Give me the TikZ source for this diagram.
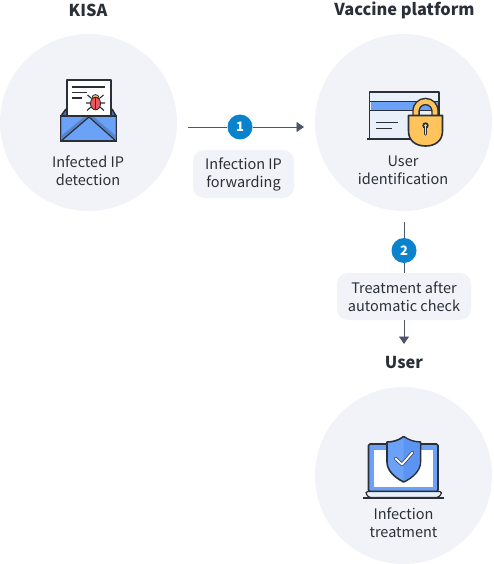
\documentclass[tikz,border=0pt]{standalone}
\usepackage{fontspec}
\setmainfont{Noto Sans CJK KR}
\usetikzlibrary{arrows.meta, positioning, calc}
\definecolor{fundo}{HTML}{F2F3F8}
\definecolor{tinta}{HTML}{2B3038}
\definecolor{seta}{HTML}{4C5568}
\definecolor{selo}{HTML}{0A82CC}
\definecolor{azul}{HTML}{6BA2F8}
\definecolor{azulescuro}{HTML}{5C94F2}
\definecolor{azulclaro}{HTML}{E9F0FA}
\definecolor{ouro}{HTML}{FFC55C}
\definecolor{vermelho}{HTML}{F0565A}

\begin{document}
\begin{tikzpicture}[
    x=1pt,
    y=-1pt,
    every node/.style={text=tinta},
    circulo/.style={
        circle,
        fill=fundo,
        minimum size=177pt,
        inner sep=0pt
    },
    titulo/.style={
        font=\fontsize{16.4}{20}\selectfont\bfseries
    },
    rotulo/.style={
        align=center,
        inner sep=0pt,
        font=\fontsize{14.5}{18}\selectfont
    },
    caixa/.style={
        fill=fundo,
        rounded corners=11pt,
        align=center,
        inner sep=0pt,
        font=\fontsize{14.5}{18}\selectfont
    },
    selonum/.style={
        circle,
        fill=selo,
        minimum size=25pt,
        inner sep=0pt,
        font=\fontsize{13}{15}\selectfont\bfseries,
        text=white
    },
    ligacao/.style={
        draw=seta,
        line width=0.9pt
    },
    ponta/.style={
        -{Triangle[length=7.5pt,width=10pt]}
    },
    contorno/.style={
        draw=tinta,
        line width=1.6pt,
        line join=round
    },
    traco/.style={
        draw=tinta,
        line width=1.1pt
    }
]

\useasboundingbox (0,0) rectangle (493,564);

% ============================================================
% CÍRCULOS
% ============================================================

\node[circulo] (kisa) at (88.5,122.5) {};
\node[circulo] (vaccine) at (403.5,122.5) {};
\node[circulo] (user) at (403.5,475.5) {};

% ============================================================
% TÍTULOS
% ============================================================

\node[titulo] (kisaTitle) at (88,10) {KISA};
\node[titulo] (vaccineTitle) at (404.5,10) {Vaccine platform};
\node[titulo] (userTitle) at (404,363) {User};

% ============================================================
% RÓTULOS
% ============================================================

\node[rotulo] (kisaText) at (88,170.5) {Infected IP\\detection};
\node[rotulo] (vaccineText) at (403,170.5) {User\\identification};
\node[rotulo] (userText) at (403.5,522.5) {Infection\\treatment};

% ============================================================
% PASSO 1
% ============================================================

\coordinate (startA) at (188,127);
\coordinate (endA) at (304,127);
\node[selonum] (badgeA) at (240,127) {1};
\node[
    caixa,
    minimum width=101pt,
    minimum height=48pt
] (boxA) at (243.5,174)
{Infection IP\\forwarding};

\draw[ligacao] (startA) -- (badgeA);
\draw[ligacao, ponta] (badgeA) -- (endA);

% ============================================================
% PASSO 2
% ============================================================

\coordinate (startB) at (404,222);
\coordinate (endB) at (404,344);
\node[selonum] (badgeB) at (404,250.5) {2};
\node[
    caixa,
    minimum width=134pt,
    minimum height=47pt
] (boxB) at (404,296.5)
{Treatment after\\automatic check};

\draw[ligacao] (startB) -- (badgeB);
\draw[ligacao] (badgeB) -- (boxB);
\draw[ligacao, ponta] (boxB) -- (endB);

% ============================================================
% ENVELOPE
% ============================================================

\fill[azul!70!black] (61,116) -- (66,109) -- (112,109) -- (116,116) -- cycle;
\draw[contorno] (61,116) -- (66,109);
\draw[contorno] (116,116) -- (112,109);

\filldraw[contorno, fill=white] (67,80) rectangle (111,116);
\draw[traco] (72,87) -- (105,87);
\draw[traco] (72,92.5) -- (87,92.5);
\draw[traco] (72,98) -- (82,98);

% Inseto
\draw[traco]
(91,98) -- (87.5,95)
(100,98) -- (103.5,95)
(91,103) -- (86,103)
(100,103) -- (105,103)
(91,107) -- (87,110.5)
(100,107) -- (104,110.5);
\filldraw[fill=ouro, draw=tinta, line width=0.8pt] (91.8,98.5) arc (180:360:3.7 and 4) -- cycle;
\filldraw[fill=vermelho, draw=tinta, line width=0.9pt] (95.5,103.5) ellipse (5 and 6.3);
\draw[tinta, line width=0.7pt] (95.5,97.5) -- (95.5,109.5);

\filldraw[contorno, fill=azul] (60.5,116) rectangle (116.5,141);
\fill[azul!60!black, opacity=0.45] (60.5,116) -- (89,117) -- (60.5,141) -- cycle;
\fill[azul] (62,116.8) -- (84,116.8) -- (62,135) -- cycle;
\fill[azul!60!black, opacity=0.45] (116.5,116) -- (89,117) -- (116.5,141) -- cycle;
\fill[azul] (115,116.8) -- (94,116.8) -- (115,135) -- cycle;
\draw[contorno, line width=1.2pt] (61,141) -- (89,117) -- (116,141);
\draw[contorno] (60.5,116) rectangle (116.5,141);

% ============================================================
% CARTÃO E CADEADO
% ============================================================

\filldraw[contorno, fill=azulclaro] (369.5,92) rectangle (439,139);
\fill[azul] (370.5,101) rectangle (438,110);
\draw[tinta, line width=0.7pt] (370,101) -- (439,101) (370,110) -- (439,110);
\draw[contorno] (367,139) -- (412,139);
\draw[traco] (376,122.5) -- (398,122.5);
\draw[traco] (376,128.5) -- (392,128.5);

% Cadeado
\draw[tinta, line width=7.5pt] (416,116) -- (416,111) arc (180:360:9.5) -- (435,116);
\draw[ouro, line width=4.6pt] (416,116) -- (416,111) arc (180:360:9.5) -- (435,116);
\filldraw[contorno, fill=ouro]
(408.5,115.5) -- (442.5,115.5) -- (442.5,131)
.. controls (442.5,141) and (435,146) .. (425.5,146)
.. controls (416,146) and (408.5,141) .. (408.5,131) -- cycle;
\fill[tinta] (425.5,125.5) circle (3.2);
\draw[tinta, line width=3.4pt, line cap=round] (425.5,126) -- (425.5,134);
\fill[ouro!55!white] (425.5,125.5) circle (1.4);
\draw[ouro!55!white, line width=1.2pt, line cap=round] (425.5,126) -- (425.5,134);

% ============================================================
% LAPTOP E ESCUDO
% ============================================================

\filldraw[contorno, fill=azul, rounded corners=1.5pt] (368.5,444) rectangle (438,491.5);
\fill[white] (374,449.5) rectangle (433,486.5);
\filldraw[contorno, fill=azulclaro, line width=1.2pt, rounded corners=1.5pt]
(366,491.5) -- (441.5,491.5) -- (441.5,494) -- (438,497.5) -- (369,497.5) -- (366,494) -- cycle;
\draw[contorno] (363,498) -- (444,498);

\filldraw[contorno, fill=azul]
(403.7,436.5) .. controls (409,440.5) and (415,442) .. (420.5,442)
-- (420.5,462)
.. controls (420.5,471) and (412,478) .. (403.7,482)
.. controls (395.5,478) and (387,471) .. (387,462)
-- (387,442)
.. controls (392.5,442) and (398.5,440.5) .. (403.7,436.5) -- cycle;
\fill[azulescuro]
(403.7,437.5) .. controls (409,441.2) and (415,442.8) .. (419.7,442.8)
-- (419.7,462)
.. controls (419.7,470.5) and (411.5,477.2) .. (403.7,481) -- cycle;
\draw[tinta, line width=3.2pt, line cap=round, line join=round]
(395.5,458.5) -- (402,464.5) -- (412.5,452.5);
\draw[white, line width=1.9pt, line cap=round, line join=round]
(395.5,458.5) -- (402,464.5) -- (412.5,452.5);

\end{tikzpicture}
\end{document}
